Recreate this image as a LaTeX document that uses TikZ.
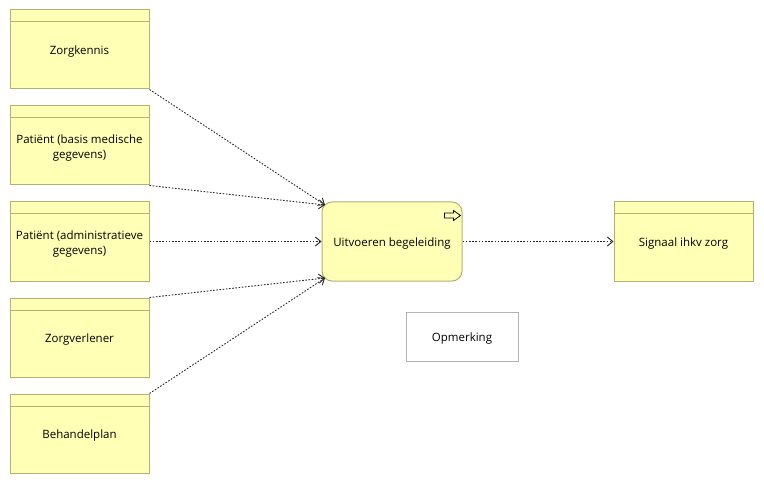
\documentclass[tikz,border=0pt]{standalone}
\usepackage{fontspec}
\setmainfont{Open Sans}
\usetikzlibrary{arrows.meta,calc}
\definecolor{objfill}{RGB}{255,255,181}
\definecolor{objline}{RGB}{178,178,112}
\definecolor{noteline}{RGB}{178,178,178}
\tikzset{
  base/.style={draw=objline, line width=1pt, fill=objfill, inner sep=0pt},
  caption/.style={label={[align=center, inner sep=0pt, yshift=-2.5pt,
    font=\fontsize{11.5}{15}\selectfont, text=black]center:{#1}}},
  dataobj/.style={base, rectangle, minimum width=139pt, minimum height=79pt,
    caption={#1},
    path picture={\draw[objline, line width=1pt]
      ([yshift=-12pt]path picture bounding box.north west) --
      ([yshift=-12pt]path picture bounding box.north east);}},
  procbox/.style={base, rectangle, rounded corners=10pt,
    minimum width=140pt, minimum height=79pt, caption={#1}},
  notebox/.style={base, draw=noteline, fill=white,
    minimum width=112pt, minimum height=49pt, caption={#1}},
  access/.style={line width=0.9pt, black!85, dash pattern=on 1.6pt off 1.6pt,
    -{Straight Barb[length=5.5pt,width=9pt,line width=0.9pt]}},
}
\begin{document}
\begin{tikzpicture}[x=1pt,y=-1pt]
  \useasboundingbox (0,0) rectangle (764,484);

  % data objects in the left column
  \node[dataobj={Zorgkennis}] (zk) at (79.5,49.5) {};
  \node[dataobj={Patiënt (basis medische\\gegevens)}] (pb) at (79.5,145.5) {};
  \node[dataobj={Patiënt (administratieve\\gegevens)}] (pa) at (79.5,241.5) {};
  \node[dataobj={Zorgverlener}] (zv) at (79.5,337.5) {};
  \node[dataobj={Behandelplan}] (bp) at (79.5,433.5) {};

  % process with its arrow icon
  \node[procbox={Uitvoeren begeleiding}] (proc) at (392,241.5) {};
  \draw[line width=0.8pt, black]
    ($(proc.north east)+(-18,11.5)$) -- ++(9,0) -- ++(0,-2.5) -- ++(7,5)
    -- ++(-7,5) -- ++(0,-2.5) -- ++(-9,0) -- cycle;

  % resulting data object and note
  \node[dataobj={Signaal ihkv zorg}] (sig) at (683.5,241.5) {};
  \node[notebox={Opmerking}] (note) at (462,336.5) {};

  % access relations
  \coordinate (intop) at ($(proc.north west)+(3.5,3.5)$);
  \coordinate (inbot) at ($(proc.south west)+(3.5,-3.5)$);
  \draw[access] (zk.south east) -- (intop);
  \draw[access] (pb.south east) -- (intop);
  \draw[access] (pa.east) -- (proc.west);
  \draw[access] (zv.north east) -- (inbot);
  \draw[access] (bp.north east) -- (inbot);
  \draw[access] (proc.east) -- (sig.west);
\end{tikzpicture}
\end{document}
